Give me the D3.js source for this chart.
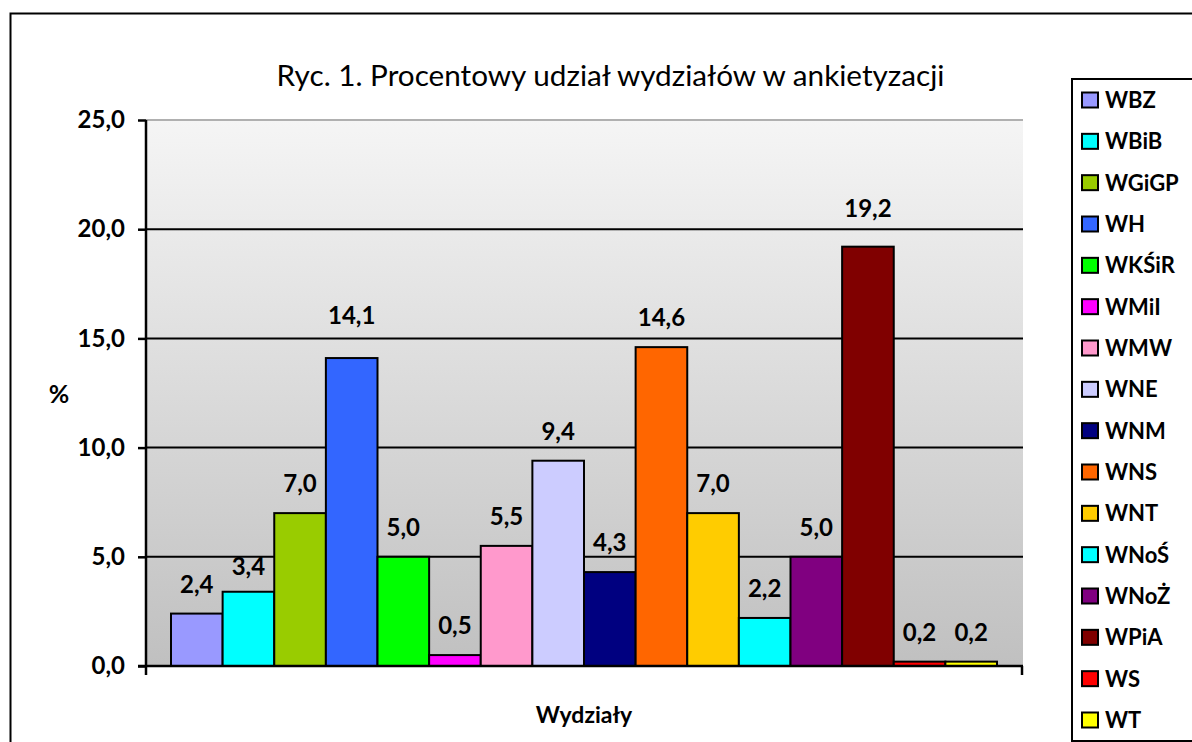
<!DOCTYPE html>
<html>
<head>
<meta charset="utf-8">
<script src="https://cdn.jsdelivr.net/npm/d3@7"></script>
<style>
  body { margin: 0; background: #fff; }
  text { font-family: Lato, "Open Sans", sans-serif; }
</style>
</head>
<body>
<div id="chart"></div>
<script>
// data
var categories = ["WBZ", "WBiB", "WGiGP", "WH", "WKŚiR", "WMiI", "WMW", "WNE", "WNM", "WNS", "WNT", "WNoŚ", "WNoŻ", "WPiA", "WS", "WT"];
var values = [2.4, 3.4, 7.0, 14.1, 5.0, 0.5, 5.5, 9.4, 4.3, 14.6, 7.0, 2.2, 5.0, 19.2, 0.2, 0.2];
var colors = ["#9999FF", "#00FFFF", "#99CC00", "#3366FF", "#00FF00", "#FF00FF", "#FF99CC", "#CCCCFF", "#000080", "#FF6600", "#FFCC00", "#00FFFF", "#800080", "#800000", "#FF0000", "#FFFF00"];
var yTicks = [0, 5, 10, 15, 20, 25];

// a few labels were dragged by hand in the original
var labelNudge = {"WBiB": 4, "WH": -13, "WPiA": -9};

var W = 1192, H = 742;
var plot = {left: 146, right: 1023, top: 120, bottom: 666};
var fmt = function(v) { return d3.format(".1f")(v).replace(".", ","); };

var svg = d3.select("#chart").append("svg").attr("width", W).attr("height", H);

var defs = svg.append("defs");
var grad = defs.append("linearGradient").attr("id", "bg").attr("x1", 0).attr("x2", 0).attr("y1", 0).attr("y2", 1);
grad.append("stop").attr("offset", "0%").attr("stop-color", "#f5f5f5");
grad.append("stop").attr("offset", "100%").attr("stop-color", "#c0c0c0");

// outer frame (runs off the right and bottom edge)
svg.append("rect").attr("x", 10.5).attr("y", 13.5).attr("width", 1300).attr("height", 900)
  .attr("fill", "none").attr("stroke", "#000").attr("stroke-width", 2);

var y = d3.scaleLinear().domain([0, 25]).range([plot.bottom, plot.top]);
var x = d3.scaleBand().domain(categories).range([171, 997]).padding(0);

// plot area
svg.append("rect").attr("x", plot.left).attr("y", plot.top)
  .attr("width", plot.right - plot.left).attr("height", plot.bottom - plot.top)
  .attr("fill", "url(#bg)");
svg.append("line").attr("x1", plot.left).attr("x2", plot.right).attr("y1", plot.top).attr("y2", plot.top)
  .attr("stroke", "#b0b0b0").attr("stroke-width", 2);

// gridlines
svg.selectAll(".grid").data(yTicks.filter(function(d) { return d > 0 && d < 25; }))
  .enter().append("line")
  .attr("x1", plot.left).attr("x2", plot.right)
  .attr("y1", function(d) { return y(d); }).attr("y2", function(d) { return y(d); })
  .attr("stroke", "#000").attr("stroke-width", 2);

// bars
svg.selectAll(".bar").data(values).enter().append("rect")
  .attr("x", function(d, i) { return x(categories[i]); })
  .attr("y", function(d) { return y(d); })
  .attr("width", x.bandwidth())
  .attr("height", function(d) { return y(0) - y(d); })
  .attr("fill", function(d, i) { return colors[i]; })
  .attr("stroke", "#000").attr("stroke-width", 2);

// value labels
svg.selectAll(".lbl").data(values).enter().append("text")
  .attr("x", function(d, i) { return x(categories[i]) + x.bandwidth() / 2; })
  .attr("y", function(d, i) { return y(d) - 21 + (labelNudge[categories[i]] || 0); })
  .attr("text-anchor", "middle")
  .attr("font-size", "24px").attr("font-weight", "bold")
  .text(function(d) { return fmt(d); });

// y axis
var yAxis = svg.append("g").attr("transform", "translate(" + plot.left + ",0)")
  .call(d3.axisLeft(y).tickValues(yTicks).tickSize(8).tickPadding(13).tickFormat(fmt));
yAxis.select(".domain").attr("stroke", "#000").attr("stroke-width", 2.5).attr("d", "M0," + plot.top + "V" + plot.bottom);
yAxis.selectAll(".tick line").attr("stroke-width", 2.5);
yAxis.selectAll(".tick text").attr("font-size", "24px").attr("font-weight", "bold").attr("font-family", "Lato").attr("fill", "#000");

// x axis
var xAxis = svg.append("g").attr("transform", "translate(0," + plot.bottom + ")");
xAxis.append("line").attr("x1", plot.left - 8).attr("x2", plot.right).attr("stroke", "#000").attr("stroke-width", 2.5);
xAxis.selectAll(".xt").data([plot.left, plot.right - 1]).enter().append("line")
  .attr("x1", function(d) { return d; }).attr("x2", function(d) { return d; })
  .attr("y1", 0).attr("y2", 9).attr("stroke", "#000").attr("stroke-width", 2.5);

// titles
svg.append("text").attr("x", 610.5).attr("y", 86).attr("text-anchor", "middle")
  .attr("font-size", "29.7px").text("Ryc. 1. Procentowy udział wydziałów w ankietyzacji");
svg.append("text").attr("x", 59).attr("y", 403).attr("text-anchor", "middle")
  .attr("font-size", "25px").attr("font-weight", "bold").text("%");
svg.append("text").attr("x", 584).attr("y", 723).attr("text-anchor", "middle")
  .attr("font-size", "23px").attr("font-weight", "bold").text("Wydziały");

// legend
var lg = svg.append("g");
lg.append("rect").attr("x", 1072).attr("y", 79).attr("width", 130).attr("height", 662)
  .attr("fill", "#fff").attr("stroke", "#000").attr("stroke-width", 2);
var rowY = d3.scalePoint().domain(categories).range([100, 720]);
var items = lg.selectAll(".item").data(categories).enter().append("g")
  .attr("transform", function(d) { return "translate(1082," + rowY(d) + ")"; });
items.append("rect").attr("x", 0).attr("y", -7.5).attr("width", 16).attr("height", 15)
  .attr("fill", function(d, i) { return colors[i]; }).attr("stroke", "#000").attr("stroke-width", 2);
items.append("text").attr("x", 23).attr("y", 8)
  .attr("font-size", "22px").attr("font-weight", "bold").text(function(d) { return d; });
</script>
</body>
</html>
